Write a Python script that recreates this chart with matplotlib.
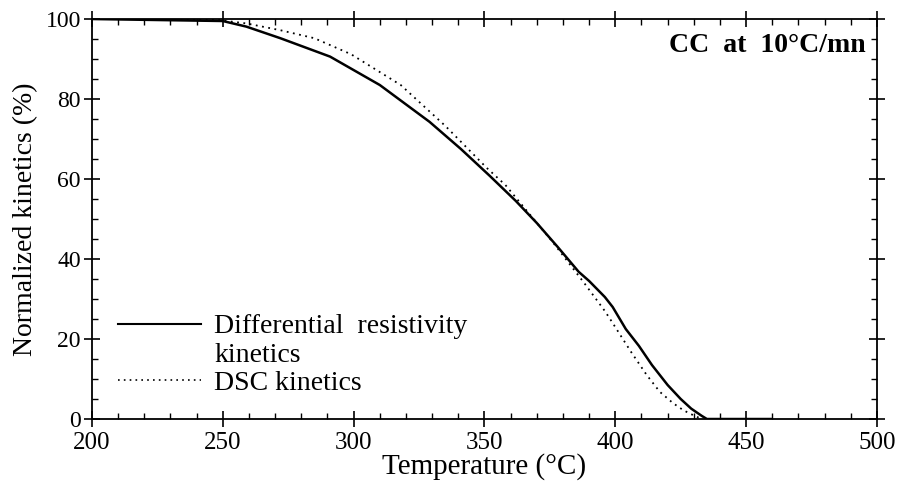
import matplotlib

matplotlib.use("Agg")
import matplotlib.pyplot as plt
from matplotlib.lines import Line2D
from matplotlib.ticker import MultipleLocator

# differential resistivity kinetics (solid)
res_T = [200, 250, 259, 272, 291, 310, 329, 341, 352, 362, 370, 378, 386, 390,
         396, 399, 404, 409, 414, 420, 425, 429, 433, 435, 460]
res_y = [100, 99.5, 98.1, 95.2, 90.6, 83.5, 74.3, 67.5, 60.8, 54.5, 49, 43, 36.8, 34.5,
         30.5, 28, 22.5, 18.3, 13.5, 8.5, 5, 2.6, 0.8, 0, 0]

# DSC kinetics (dotted)
dsc_T = [200, 245, 259, 272, 285, 299, 318, 335, 351, 358, 367, 376, 388, 396,
         398.5, 406, 412, 417, 422, 426, 429, 432]
dsc_y = [100, 100, 98.9, 97.2, 95.2, 91.2, 83.5, 73.3, 62.7, 58.5, 51.4, 44.3, 34.1, 27.0,
         24.5, 16.8, 11, 6.8, 4, 2.2, 1.2, 0.3]

plt.rcParams["font.family"] = ["Liberation Serif", "DejaVu Serif"]

fig = plt.figure(figsize=(8.99, 4.94), dpi=100)
ax = fig.add_axes([0.1023, 0.1518, 0.8732, 0.8097])

ax.plot(res_T, res_y, color="black", lw=1.8, solid_capstyle="butt")
ax.plot(dsc_T, dsc_y, color="black", lw=1.3, ls=(0, (1, 2.5)))

ax.set_xlim(200, 500)
ax.set_ylim(0, 100)
ax.xaxis.set_major_locator(MultipleLocator(50))
ax.xaxis.set_minor_locator(MultipleLocator(10))
ax.yaxis.set_major_locator(MultipleLocator(20))
ax.yaxis.set_minor_locator(MultipleLocator(5))
ax.tick_params(which="major", direction="inout", length=12, width=1.2,
               top=True, right=True, labelsize=17, pad=2)
ax.tick_params(axis="x", which="major", labelsize=18, pad=3)
ax.tick_params(which="minor", direction="in", length=4, width=1,
               top=True, right=True)
for s in ax.spines.values():
    s.set_linewidth(1.3)

ax.set_xlabel("Temperature (°C)", fontsize=21, labelpad=0)
ax.set_ylabel("Normalized kinetics (%)", fontsize=20, labelpad=5)

ax.text(0.986, 0.935, "CC  at  10°C/mn", transform=ax.transAxes, ha="right",
        va="center", fontsize=20, fontweight="bold")

handles = [Line2D([], [], color="black", lw=1.5),
           Line2D([], [], color="none"),
           Line2D([], [], color="black", lw=1.2, ls=(0, (1, 2.5)))]
labels = ["Differential  resistivity", "kinetics", "DSC kinetics"]
ax.legend(handles, labels, loc="lower left", bbox_to_anchor=(0.019, 0.03),
          frameon=False, fontsize=20, handlelength=3.0, handletextpad=0.47,
          labelspacing=0.1, borderaxespad=0)

fig.savefig("out.png", dpi=100)
